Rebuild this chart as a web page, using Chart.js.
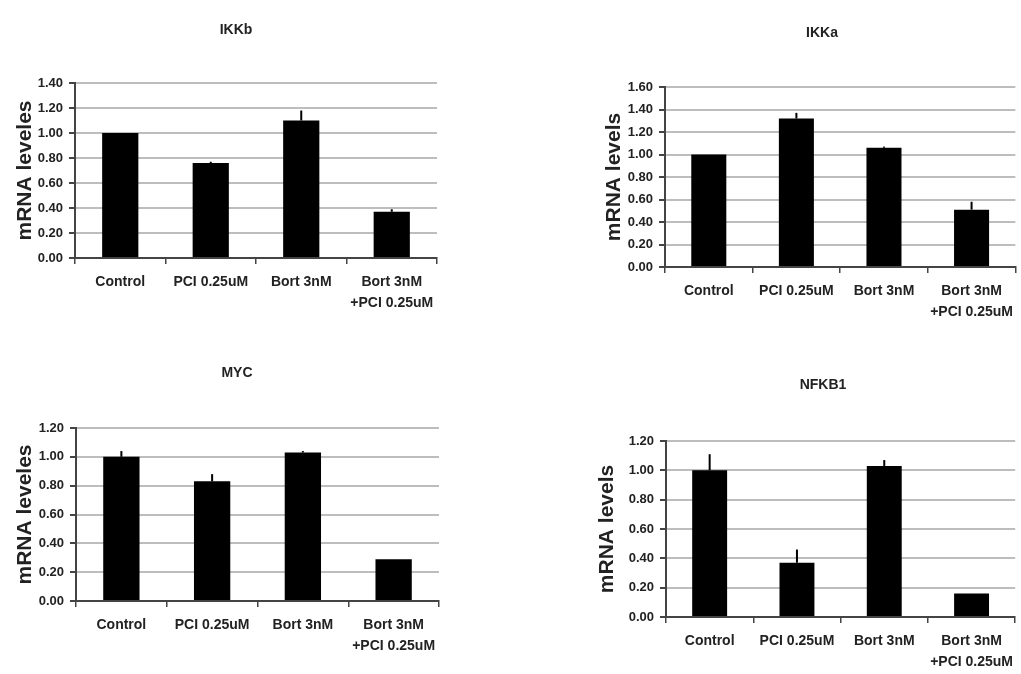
<!DOCTYPE html>
<html><head><meta charset="utf-8">
<script src="https://cdn.jsdelivr.net/npm/chart.js@4.4.1/dist/chart.umd.min.js"></script>
<style>
html,body{margin:0;padding:0;background:#fff;width:1021px;height:674px;overflow:hidden}
.p{position:absolute}
canvas{display:block}
</style></head><body>
<div class="p" id="d1"><canvas id="c1"></canvas></div>
<div class="p" id="d2"><canvas id="c2"></canvas></div>
<div class="p" id="d3"><canvas id="c3"></canvas></div>
<div class="p" id="d4"><canvas id="c4"></canvas></div>
<script>
// ---- data ----
const categories = ['Control', 'PCI 0.25uM', 'Bort 3nM', ['Bort 3nM', '+PCI 0.25uM']];

const ikkbValues = [1.00, 0.76, 1.10, 0.37];
const ikkbErrors = [0.00, 0.01, 0.08, 0.02];

const ikkaValues = [1.00, 1.32, 1.06, 0.51];
const ikkaErrors = [0.00, 0.05, 0.01, 0.07];

const mycValues = [1.00, 0.83, 1.03, 0.29];
const mycErrors = [0.04, 0.05, 0.01, 0.00];

const nfkb1Values = [1.00, 0.37, 1.03, 0.16];
const nfkb1Errors = [0.11, 0.09, 0.04, 0.00];

const yMaxIkkb = 1.4, yMaxIkka = 1.6, yMaxMyc = 1.2, yMaxNfkb1 = 1.2;
const yStep = 0.2;

// ---- styling / layout ----
const SANS = "'Liberation Sans', Arial, sans-serif";

const errorBarPlugin = {
  id: 'errorBars',
  afterDatasetsDraw(chart, args, opts) {
    const errs = opts.errors || [];
    const ys = chart.scales.y;
    const meta = chart.getDatasetMeta(0);
    const vals = chart.data.datasets[0].data;
    const ctx = chart.ctx;
    ctx.save();
    ctx.strokeStyle = '#000';
    ctx.lineWidth = 2;
    meta.data.forEach((bar, i) => {
      const e = errs[i];
      if (!e) return;
      const y0 = ys.getPixelForValue(vals[i]);
      const y1 = ys.getPixelForValue(vals[i] + e);
      ctx.beginPath();
      ctx.moveTo(bar.x, y0);
      ctx.lineTo(bar.x, y1);
      ctx.stroke();
    });
    ctx.restore();
  }
};

const panelTitlePlugin = {
  id: 'panelTitle',
  afterDraw(chart, args, opts) {
    const ctx = chart.ctx;
    ctx.save();
    ctx.font = 'bold 14px ' + SANS;
    ctx.fillStyle = '#222';
    ctx.textAlign = 'center';
    ctx.textBaseline = 'middle';
    ctx.fillText(opts.text, opts.x, opts.y);
    ctx.restore();
  }
};

function makePanel(id, g, title, yTitle, values, errors, yMax) {
  const div = document.getElementById('d' + id);
  div.style.left = g.left + 'px';
  div.style.top = g.top + 'px';
  const cv = document.getElementById('c' + id);
  cv.width = g.w; cv.height = g.h;
  const yWidth = g.plotLeft - g.left;
  const xHeight = g.top + g.h - g.plotBottom;
  new Chart(cv, {
    type: 'bar',
    data: {
      labels: categories,
      datasets: [{
        data: values,
        backgroundColor: '#000',
        borderWidth: 0,
        barPercentage: 0.4,
        categoryPercentage: 1.0
      }]
    },
    options: {
      responsive: false,
      animation: false,
      devicePixelRatio: 1,
      layout: {
        autoPadding: false,
        padding: { top: g.plotTop - g.top, right: g.left + g.w - g.plotRight, bottom: 0, left: 0 }
      },
      plugins: {
        legend: { display: false },
        tooltip: { enabled: false },
        title: { display: false },
        errorBars: { errors: errors },
        panelTitle: { text: title, x: g.titleX - g.left, y: g.titleY - g.top }
      },
      scales: {
        x: {
          afterFit(s) { s.height = xHeight; },
          grid: { display: true, drawOnChartArea: false, drawTicks: true, tickLength: 6, color: '#444', lineWidth: 1.5 },
          border: { display: true, color: '#444', width: 2 },
          ticks: {
            color: '#222',
            padding: 8,
            maxRotation: 0,
            autoSkip: false,
            font: { family: SANS, weight: 'bold', size: 14, lineHeight: 1.5 }
          }
        },
        y: {
          min: 0,
          max: yMax,
          afterFit(s) { s.width = yWidth; },
          afterBuildTicks(s) {
            const t = [];
            for (let k = 0; k <= Math.round(yMax / yStep); k++) t.push({ value: +(k * yStep).toFixed(2) });
            s.ticks = t;
          },
          grid: { color: '#bdbdbd', lineWidth: 2, drawTicks: true, tickLength: 6, tickColor: '#444' },
          border: { display: true, color: '#444', width: 2 },
          ticks: {
            color: '#222',
            padding: 6,
            font: { family: SANS, weight: 'bold', size: 13 },
            callback: v => Number(v).toFixed(2)
          },
          title: {
            display: true,
            text: yTitle,
            color: '#222',
            font: { family: SANS, weight: 'bold', size: 21, lineHeight: 1.2 },
            padding: { top: g.yTitleCenter - g.left - 12.6, bottom: 0 }
          }
        }
      }
    },
    plugins: [errorBarPlugin, panelTitlePlugin]
  });
}

makePanel(1, { left: 0, top: 0, w: 470, h: 320, plotLeft: 75, plotTop: 83, plotRight: 437, plotBottom: 258, titleX: 236, titleY: 30, yTitleCenter: 25 },
  'IKKb', 'mRNA leveles', ikkbValues, ikkbErrors, yMaxIkkb);
makePanel(2, { left: 580, top: 0, w: 441, h: 330, plotLeft: 665, plotTop: 87, plotRight: 1021, plotBottom: 267, titleX: 822, titleY: 33, yTitleCenter: 614 },
  'IKKa', 'mRNA levels', ikkaValues, ikkaErrors, yMaxIkka);
makePanel(3, { left: 0, top: 340, w: 470, h: 334, plotLeft: 76, plotTop: 428, plotRight: 439, plotBottom: 601, titleX: 237, titleY: 373, yTitleCenter: 25 },
  'MYC', 'mRNA leveles', mycValues, mycErrors, yMaxMyc);
makePanel(4, { left: 580, top: 340, w: 441, h: 334, plotLeft: 666, plotTop: 441, plotRight: 1021, plotBottom: 617, titleX: 823, titleY: 385, yTitleCenter: 607 },
  'NFKB1', 'mRNA levels', nfkb1Values, nfkb1Errors, yMaxNfkb1);
</script>
</body></html>
